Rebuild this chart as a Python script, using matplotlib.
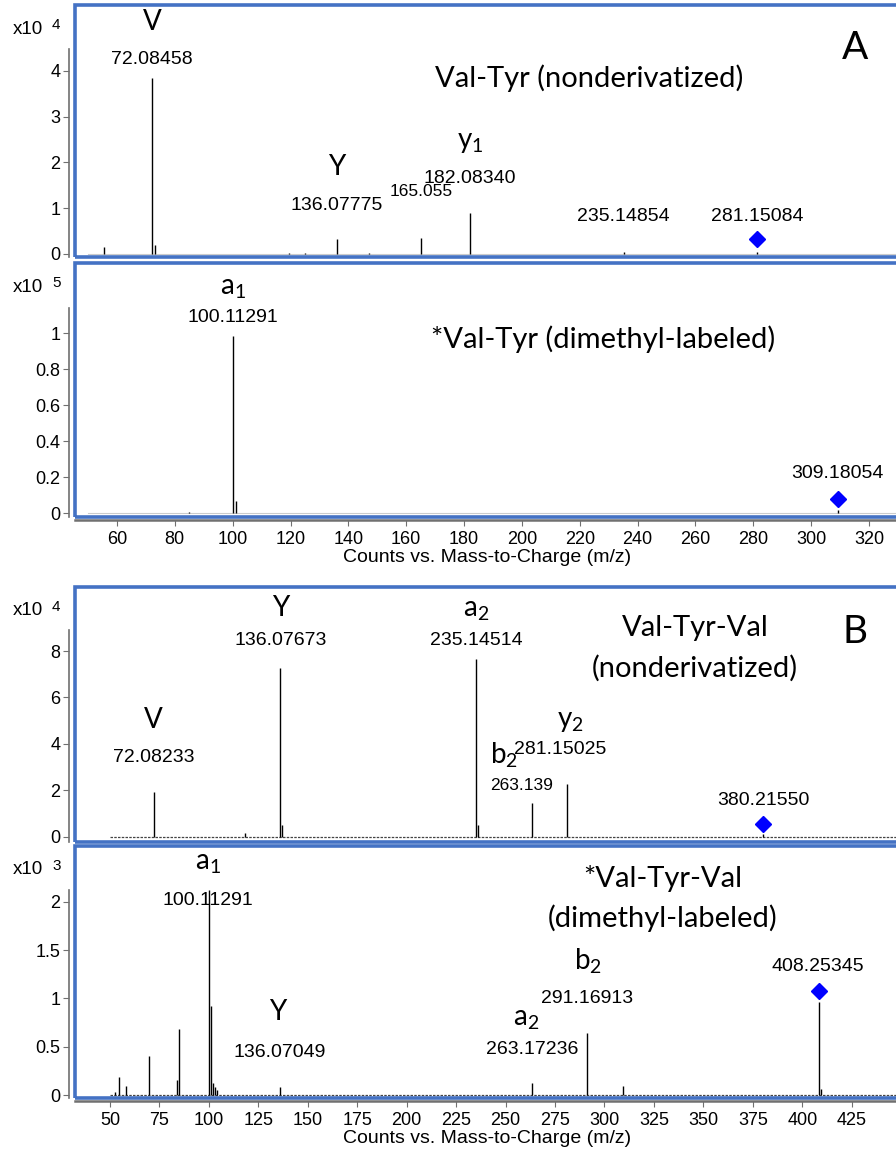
import matplotlib
matplotlib.use("Agg")
import matplotlib.pyplot as plt
from matplotlib.patches import Rectangle

plt.rcParams['font.family'] = ['Liberation Sans', 'DejaVu Sans']
plt.rcParams['mathtext.fontset'] = 'custom'
plt.rcParams['mathtext.rm'] = 'Lato'
plt.rcParams['mathtext.it'] = 'Lato:italic'
plt.rcParams['mathtext.bf'] = 'Lato:bold'

# peak lists: m/z and height (in units of the panel's scale factor)
a1_mz = [55.5, 72.08458, 73.08, 119.5, 125.0, 136.07775, 147.0, 165.055, 182.08340, 235.14854, 281.15084]
a1_int = [0.15, 3.85, 0.2, 0.03, 0.03, 0.32, 0.03, 0.34, 0.89, 0.04, 0.05]

a2_mz = [85.0, 100.11291, 101.1, 309.18054]
a2_int = [0.01, 0.985, 0.07, 0.02]

b1_mz = [72.08233, 118.0, 136.07673, 137.08, 235.14514, 236.15, 263.139, 281.15025, 380.21550]
b1_int = [1.91, 0.15, 7.28, 0.5, 7.65, 0.5, 1.44, 2.27, 0.1]

b2_mz = [52.5, 54.7, 57.9, 69.9, 84.0, 85.1, 100.11291, 101.1, 102.0, 103.0, 104.0,
         136.07049, 263.17236, 291.16913, 309.2, 408.25345, 409.25]
b2_int = [0.03, 0.19, 0.09, 0.405, 0.155, 0.68, 2.12, 0.92, 0.12, 0.08, 0.05,
          0.085, 0.12, 0.64, 0.09, 0.96, 0.06]

# precursor markers (m/z, marker height)
a1_prec = (281.15084, 0.33)
a2_prec = (309.18054, 0.079)
b1_prec = (380.21550, 0.55)
b2_prec = (408.25345, 1.08)

ticks_a = list(range(60, 321, 20))
ticks_b = list(range(50, 426, 25))

W, H = 896, 1158
BLUE = '#4472C4'
GRAY = '#707070'
fig = plt.figure(figsize=(W / 100, H / 100), dpi=100)


def box(x0, y0, x1, y1):
    return [x0 / W, 1 - y1 / H, (x1 - x0) / W, (y1 - y0) / H]


def panel(rect, xlim, ylim, ytop, yticks, mz, inten, prec, exp, show_x, xticks, noise):
    ax = fig.add_axes(box(*rect))
    ax.set_xlim(*xlim)
    ax.set_ylim(*ylim)
    for s in ax.spines.values():
        s.set_visible(False)
    ax.spines['left'].set_visible(True)
    ax.spines['left'].set_color(GRAY)
    ax.spines['left'].set_linewidth(1.2)
    ax.spines['left'].set_position(('outward', 4))
    ax.spines['left'].set_bounds(ylim[0], ytop)
    ax.set_yticks(yticks)
    ax.set_yticklabels([('%g' % t) for t in yticks])
    ax.tick_params(axis='y', direction='out', length=4.5, color=GRAY, labelsize=13, pad=2)
    if show_x:
        ax.spines['bottom'].set_visible(True)
        ax.spines['bottom'].set_color(GRAY)
        ax.spines['bottom'].set_linewidth(1.8)
        ax.spines['bottom'].set_position(('outward', 2.5))
        ax.set_xticks(xticks)
        ax.tick_params(axis='x', direction='out', length=4.5, color=GRAY, labelsize=13, pad=3)
        ax.set_xlabel('Counts vs. Mass-to-Charge (m/z)', fontsize=14, labelpad=1)
    else:
        ax.set_xticks([])
    if noise:
        ax.axhline(0, xmin=(50 - xlim[0]) / (xlim[1] - xlim[0]), color='#444444', lw=0.9, ls=(0, (2, 1)))
    else:
        ax.axhline(0, xmin=(50 - xlim[0]) / (xlim[1] - xlim[0]), color='#cccccc', lw=0.8)
    ax.vlines(mz, 0, inten, color='black', lw=1.0)
    ax.plot([prec[0]], [prec[1]], 'D', color='#0000FF', ms=8.5, zorder=5)
    ax.add_patch(Rectangle((0, 0), 1, 1, transform=ax.transAxes, fill=False,
                           ec=BLUE, lw=2.6, clip_on=False, zorder=10))
    # scale factor label
    fig.text(13 / W, 1 - (rect[1] + 24) / H, 'x10', fontsize=13.5, va='center', ha='left')
    fig.text(52 / W, 1 - (rect[1] + 20) / H, exp, fontsize=11, va='center', ha='left')
    return ax


def num(ax, x, y, s, narrow=False):
    ax.text(x, y, s, fontsize=12.5 if narrow else 14, ha='center', va='center')


def ion(ax, x, y, s, size=20):
    ax.text(x, y, s, fontsize=size, ha='center', va='center', family=['Lato', 'DejaVu Sans'])


TS = 21

# ---- Panel A, top: Val-Tyr
xa = (45.5, 330.7)
ax = panel((75, 5, 900, 257), xa, (-0.066, 5.44), 4.48, [0, 1, 2, 3, 4],
           a1_mz, a1_int, a1_prec, '4', False, ticks_a, False)
ion(ax, 72.1, 5.07, 'V')
num(ax, 72.1, 4.24, '72.08458')
ion(ax, 136.1, 1.90, 'Y')
num(ax, 136.1, 1.07, '136.07775')
ion(ax, 182.1, 2.45, r'y$_\mathregular{1}$')
num(ax, 182.1, 1.66, '182.08340')
num(ax, 165.1, 1.36, '165.055', narrow=True)
num(ax, 235.1, 0.81, '235.14854')
num(ax, 281.2, 0.81, '281.15084')
ion(ax, 223.2, 3.85, 'Val-Tyr (nonderivatized)', TS)
ion(ax, 315.2, 4.5, 'A', 28)

# ---- Panel A, bottom: dimethyl Val-Tyr
ax = panel((75, 263, 900, 517), xa, (-0.02, 1.39), 1.14, [0, 0.2, 0.4, 0.6, 0.8, 1],
           a2_mz, a2_int, a2_prec, '5', True, ticks_a, False)
ion(ax, 100.1, 1.25, r'a$_\mathregular{1}$')
num(ax, 100.1, 1.085, '100.11291')
ion(ax, 228.0, 0.968, '*Val-Tyr (dimethyl-labeled)', TS)
num(ax, 309.2, 0.224, '309.18054')

# ---- Panel B, top: Val-Tyr-Val
xb = (32.3, 449.4)
ax = panel((75, 587, 900, 842), xb, (-0.23, 10.76), 8.91, [0, 2, 4, 6, 8],
           b1_mz, b1_int, b1_prec, '4', False, ticks_b, True)
ion(ax, 72.1, 5.03, 'V')
num(ax, 72.1, 3.40, '72.08233')
ion(ax, 136.1, 9.86, 'Y')
num(ax, 136.1, 8.44, '136.07673')
ion(ax, 235.1, 9.75, r'a$_\mathregular{2}$')
num(ax, 235.1, 8.44, '235.14514')
ion(ax, 345.8, 9.0, 'Val-Tyr-Val', TS)
ion(ax, 345.8, 7.27, '(nonderivatized)', TS)
ion(ax, 426.6, 8.84, 'B', 28)
ion(ax, 282.6, 5.0, r'y$_\mathregular{2}$')
ion(ax, 249.0, 3.5, r'b$_\mathregular{2}$')
num(ax, 277.5, 3.74, '281.15025')
num(ax, 258.3, 2.19, '263.139', narrow=True)
num(ax, 380.2, 1.54, '380.21550')

# ---- Panel B, bottom: dimethyl Val-Tyr-Val
ax = panel((75, 846, 900, 1098), xb, (-0.031, 2.577), 2.12, [0, 0.5, 1, 1.5, 2],
           b2_mz, b2_int, b2_prec, '3', True, ticks_b, True)
ion(ax, 99.5, 2.40, r'a$_\mathregular{1}$')
num(ax, 99.5, 2.01, '100.11291')
ion(ax, 134.9, 0.856, 'Y')
num(ax, 135.9, 0.443, '136.07049')
ion(ax, 329.6, 2.237, '*Val-Tyr-Val', TS)
ion(ax, 329.6, 1.835, '(dimethyl-labeled)', TS)
ion(ax, 291.7, 1.38, r'b$_\mathregular{2}$')
num(ax, 291.2, 1.0, '291.16913')
ion(ax, 260.3, 0.79, r'a$_\mathregular{2}$')
num(ax, 263.3, 0.474, '263.17236')
num(ax, 407.9, 1.33, '408.25345')

fig.savefig('out.png', dpi=100)
